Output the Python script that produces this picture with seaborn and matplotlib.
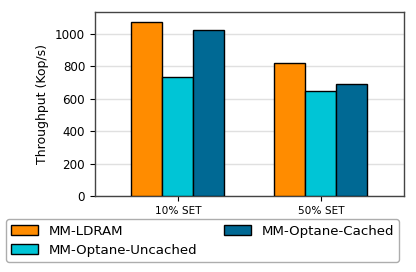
import numpy as np
import pandas as pd
import seaborn as sns
import matplotlib.pyplot as plt

# values
workloads = ["10% SET", "50% SET"]
systems = ["MM-LDRAM", "MM-Optane-Uncached", "MM-Optane-Cached"]
ldram = [1075, 818]
optane_uncached = [734, 646]
optane_cached = [1020, 689]
colors = ["#FF8C00", "#00C5D6", "#006994"]

df = pd.DataFrame({
    "workload": workloads * 3,
    "system": [s for s in systems for _ in workloads],
    "throughput": ldram + optane_uncached + optane_cached,
})

fig = plt.figure(figsize=(4.16, 2.72), dpi=100)
ax = fig.add_axes([0.228, 0.279, 0.743, 0.677])

sns.barplot(data=df, x="workload", y="throughput", hue="system",
            hue_order=systems, palette=colors, width=0.65,
            edgecolor="black", linewidth=1, saturation=1, ax=ax, zorder=3)

ax.set_xlim(-0.58, 1.58)
ax.set_ylim(0, 1134)
ax.set_yticks([0, 200, 400, 600, 800, 1000])
ax.yaxis.grid(True, color="#e0e0e0", linewidth=1, zorder=0)
ax.set_axisbelow(True)
ax.set_xlabel("")
ax.set_ylabel("Throughput (Kop/s)", fontsize=9)
ax.tick_params(axis="y", labelsize=8.6)
ax.tick_params(axis="x", labelsize=7.6)
for sp in ax.spines.values():
    sp.set_color("#444444")
    sp.set_linewidth(1)

ax.legend_.remove()
handles, labels = ax.get_legend_handles_labels()
fig.legend(handles, labels, ncol=2, loc="lower center",
           bbox_to_anchor=(0.487, 0.012), fontsize=9.6,
           edgecolor="#999999", fancybox=True, labelspacing=0.45)

fig.savefig("out.png", dpi=100)
